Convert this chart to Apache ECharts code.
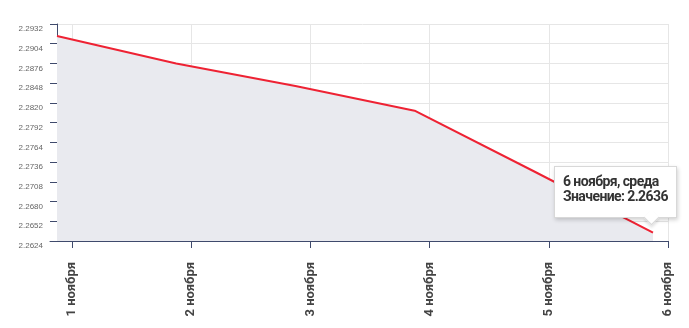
<!DOCTYPE html>
<html>
<head>
<meta charset="utf-8">
<script src="https://cdn.jsdelivr.net/npm/echarts@6/dist/echarts.min.js"></script>
<style>
html,body{margin:0;padding:0;background:#fff;}
#c{width:689px;height:328px;}
</style>
</head>
<body>
<div id="c"></div>
<script>
var categories = ['1 ноября', '2 ноября', '3 ноября', '4 ноября', '5 ноября', '6 ноября'];
var weekdays = ['пятница', 'суббота', 'воскресенье', 'понедельник', 'вторник', 'среда'];
var values = [2.2915, 2.2876, 2.2844, 2.2809, 2.2723, 2.2636];
var yMin = 2.2624, yMax = 2.2932, yStep = 0.0028;

var TOP = 24, BOTTOM = 87;
var axisColor = '#3f4a6c';
var narrow = "'Liberation Sans Narrow', 'Roboto', sans-serif";

var chart = echarts.init(document.getElementById('c'));
chart.setOption({
  animation: false,
  grid: [
    {left: 57, right: 21, top: TOP, bottom: BOTTOM},
    {left: 72, right: 21, top: TOP, bottom: BOTTOM},
    {left: 50, right: 21, top: TOP, bottom: BOTTOM},
    {left: 57, right: 36, top: TOP, bottom: BOTTOM}
  ],
  xAxis: [
    {gridIndex: 0, type: 'category', data: categories, show: false},
    {gridIndex: 1, type: 'category', data: categories, boundaryGap: false,
      axisLine: {show: false},
      axisTick: {show: true, length: 7, lineStyle: {color: axisColor, width: 1}},
      splitLine: {show: true, lineStyle: {color: '#e6e6e6', width: 1}},
      axisLabel: {rotate: 90, margin: 21, interval: 0, color: '#444', fontSize: 13,
        fontWeight: 'bold', fontFamily: narrow}
    },
    {gridIndex: 2, type: 'category', data: categories, boundaryGap: false,
      axisLine: {show: true, lineStyle: {color: axisColor, width: 1}},
      axisTick: {show: false}, axisLabel: {show: false}, splitLine: {show: false}
    },
    {gridIndex: 3, type: 'category', data: categories, boundaryGap: false, show: false}
  ],
  yAxis: [
    {gridIndex: 0, type: 'value', min: yMin, max: yMax, interval: yStep,
      axisLine: {show: true, lineStyle: {color: axisColor, width: 1}},
      axisTick: {show: true, length: 7, lineStyle: {color: axisColor}},
      splitLine: {show: true, lineStyle: {color: '#e6e6e6', width: 1}},
      axisLabel: {margin: 14, color: '#666', fontSize: 8, fontFamily: "'Liberation Sans', Arial, sans-serif",
        verticalAlign: 'top', padding: [1, 0, 0, 0], formatter: function(v){ return v.toFixed(4); }}
    },
    {gridIndex: 1, type: 'value', min: yMin, max: yMax, show: false},
    {gridIndex: 2, type: 'value', min: yMin, max: yMax, show: false},
    {gridIndex: 3, type: 'value', min: yMin, max: yMax, show: false}
  ],
  tooltip: {
    trigger: 'item',
    alwaysShowContent: true,
    triggerOn: 'none',
    padding: 0,
    borderWidth: 0,
    backgroundColor: 'transparent',
    extraCssText: 'box-shadow:none;',
    position: function(point, params, dom, rect, size){
      return [point[0] - 99, point[1] - 67];
    },
    formatter: function(p){
      var i = p.dataIndex;
      return '<div style="position:relative;width:123px;height:52px;box-sizing:border-box;background:#fff;' +
        'border:1px solid #d8d8d8;box-shadow:1px 2px 4px rgba(0,0,0,0.18);padding:7px 0 0 8px;' +
        'font-family:' + narrow.replace(/'/g, '&quot;') + ';font-weight:bold;font-size:14px;line-height:15px;' +
        'letter-spacing:-0.6px;white-space:nowrap;color:#333;">' +
        categories[i] + ', ' + weekdays[i] + '<br>Значение: ' + values[i].toFixed(4) +
        '<div style="position:absolute;left:91px;bottom:-6px;width:10px;height:10px;background:#fff;' +
        'transform:rotate(45deg);border-right:1px solid #d8d8d8;border-bottom:1px solid #d8d8d8;' +
        'box-shadow:2px 2px 3px rgba(0,0,0,0.12);"></div></div>';
    }
  },
  series: [{
    type: 'line',
    xAxisIndex: 3, yAxisIndex: 3,
    data: values,
    symbol: 'circle',
    symbolSize: 1,
    showSymbol: true,
    itemStyle: {opacity: 0},
    lineStyle: {color: '#ee2233', width: 2},
    areaStyle: {color: '#e9eaef', opacity: 1},
    z: 1
  }]
});
setTimeout(function(){
  chart.dispatchAction({type: 'showTip', seriesIndex: 0, dataIndex: 5});
}, 50);
</script>
</body>
</html>
